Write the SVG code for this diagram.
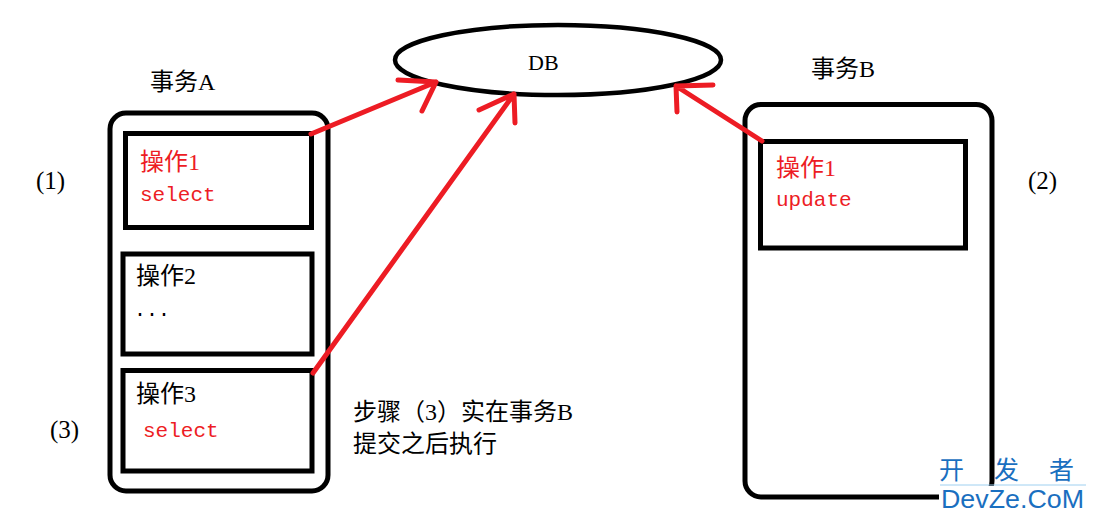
<svg xmlns="http://www.w3.org/2000/svg" width="1096" height="520" viewBox="0 0 1096 520">
<style>
.box{fill:none;stroke:#000;stroke-width:5}
.t{font-family:"Liberation Serif","Noto Sans CJK SC",serif;font-size:24px;fill:#000}
.r{fill:#ED1C24}
.m{font-family:"Liberation Mono",monospace;font-size:21px;fill:#ED1C24}
.arr{fill:none;stroke:#ED1C24;stroke-width:5;stroke-linecap:round;stroke-linejoin:round}
</style>
<rect width="1096" height="520" fill="#fff"/>
<g id="db">
<ellipse cx="558" cy="60" rx="163" ry="35" fill="none" stroke="#000" stroke-width="4.5"/>
<text x="528" y="70" style="font-family:'Liberation Serif',serif;font-size:22px">DB</text>
</g>
<g id="txA">
<text class="t" x="150" y="90">事务A</text>
<rect class="box" x="110" y="113" width="218" height="378" rx="16"/>
</g>
<g id="opA1">
<rect class="box" x="125.5" y="133.5" width="186" height="94"/>
<text class="t r" x="140" y="170">操作1</text>
<text class="m" x="140" y="201">select</text>
</g>
<g id="opA2">
<rect class="box" x="123" y="254" width="189" height="100"/>
<text class="t" x="136" y="284">操作2</text>
<text x="134" y="316" style="font-family:'Liberation Mono',monospace;font-size:20px">...</text>
</g>
<g id="opA3">
<rect class="box" x="123" y="370.5" width="189" height="100.5"/>
<text class="t" x="136" y="402">操作3</text>
<text class="m" x="143" y="437">select</text>
</g>
<g id="txB">
<text class="t" x="811" y="77">事务B</text>
<rect class="box" x="745" y="104.5" width="247" height="392.5" rx="16"/>
</g>
<g id="opB1">
<rect class="box" x="760.5" y="141.5" width="205" height="106.5"/>
<text class="t r" x="776" y="176">操作1</text>
<text class="m" x="776" y="206">update</text>
</g>
<g id="labels">
<text class="t" x="36" y="189" style="font-size:25px">(1)</text>
<text class="t" x="1028" y="189" style="font-size:25px">(2)</text>
<text class="t" x="50" y="438" style="font-size:25px">(3)</text>
<text class="t" x="353" y="420">步骤（3）实在事务B</text>
<text class="t" x="353" y="452">提交之后执行</text>
</g>
<g id="connectors">
<path class="arr" d="M311,134 L436,82 M398,80 L436,82 L422,111"/>
<path class="arr" d="M313,373 L514,94 M479,110 L514,94 L515,123"/>
<path class="arr" d="M762,141 L676,86 M713,85 L676,86 L677,112"/>
</g>
<g id="watermark">
<rect x="939" y="486" width="157" height="34" fill="#fff"/>
<line x1="940" y1="485" x2="1086" y2="485" stroke="#9fd0f0" stroke-width="1"/>
<text x="939 994 1049" y="479" style="font-family:'Noto Sans CJK SC',sans-serif;font-size:25px;fill:#1a6fc0">开发者</text>
<text x="941" y="508" style="font-family:'Liberation Sans',sans-serif;font-size:26px;fill:#1a6fc0" textLength="143" lengthAdjust="spacingAndGlyphs">DevZe.CoM</text>
</g>
</svg>
